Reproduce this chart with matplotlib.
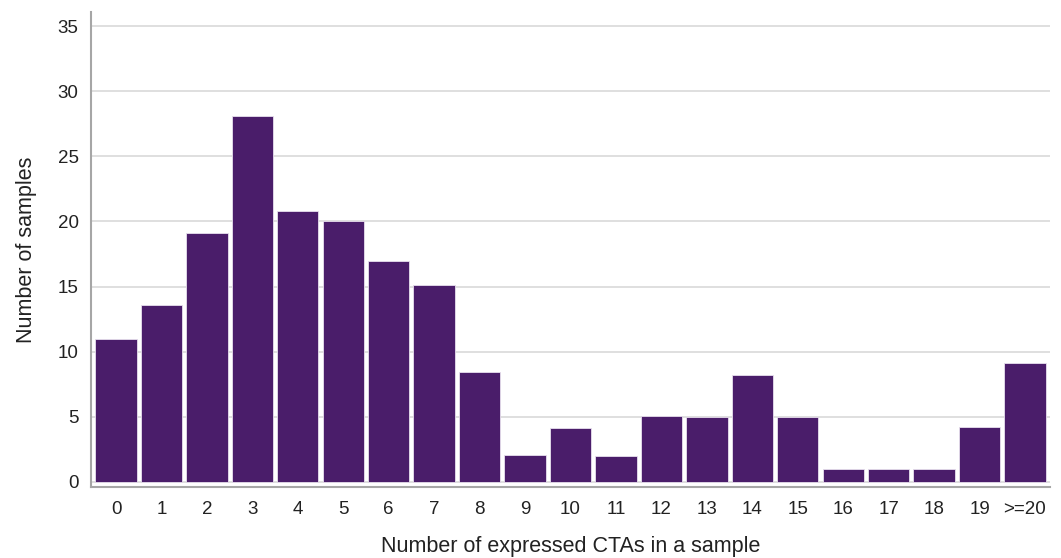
import matplotlib.pyplot as plt
import numpy as np

plt.rcParams["font.family"] = ["Liberation Sans", "DejaVu Sans"]

# counts
categories = [str(i) for i in range(20)] + [">=20"]
counts = [11, 13.6, 19.1, 28.1, 20.8, 20.0, 17.0, 15.1, 8.4, 2.05,
          4.1, 2.0, 5.05, 5.0, 8.2, 5.0, 1.0, 1.0, 1.0, 4.2, 9.15]

BAR = "#4a1d6a"
GRID = "#d9d9d9"
SPINE = "#a6a6a6"

fig = plt.figure(figsize=(10.61, 5.58), dpi=100)
ax = fig.add_axes([0.0858, 0.1272, 0.9038, 0.8513])

x = np.arange(len(categories))
ax.bar(x, counts, width=0.91, color=BAR, edgecolor="#e8e0ee", linewidth=0.6, zorder=3)

ax.set_xlim(-0.55, 20.55)
ax.set_ylim(-0.41, 36.1)
ax.set_yticks(np.arange(0, 36, 5))
ax.set_xticks(x)
ax.set_xticklabels(categories)
ax.yaxis.grid(True, color=GRID, linewidth=1.2, zorder=0)
ax.tick_params(length=0, labelsize=13.5, colors="#222222")
ax.tick_params(axis="x", pad=10)
ax.tick_params(axis="y", pad=9)

for side in ("top", "right"):
    ax.spines[side].set_visible(False)
for side in ("left", "bottom"):
    ax.spines[side].set_color(SPINE)
    ax.spines[side].set_linewidth(1.5)

ax.set_xlabel("Number of expressed CTAs in a sample", fontsize=15.5, labelpad=13, color="#222222")
ax.set_ylabel("Number of samples", fontsize=15.5, labelpad=15, color="#222222")

fig.savefig("out.png", dpi=100)
